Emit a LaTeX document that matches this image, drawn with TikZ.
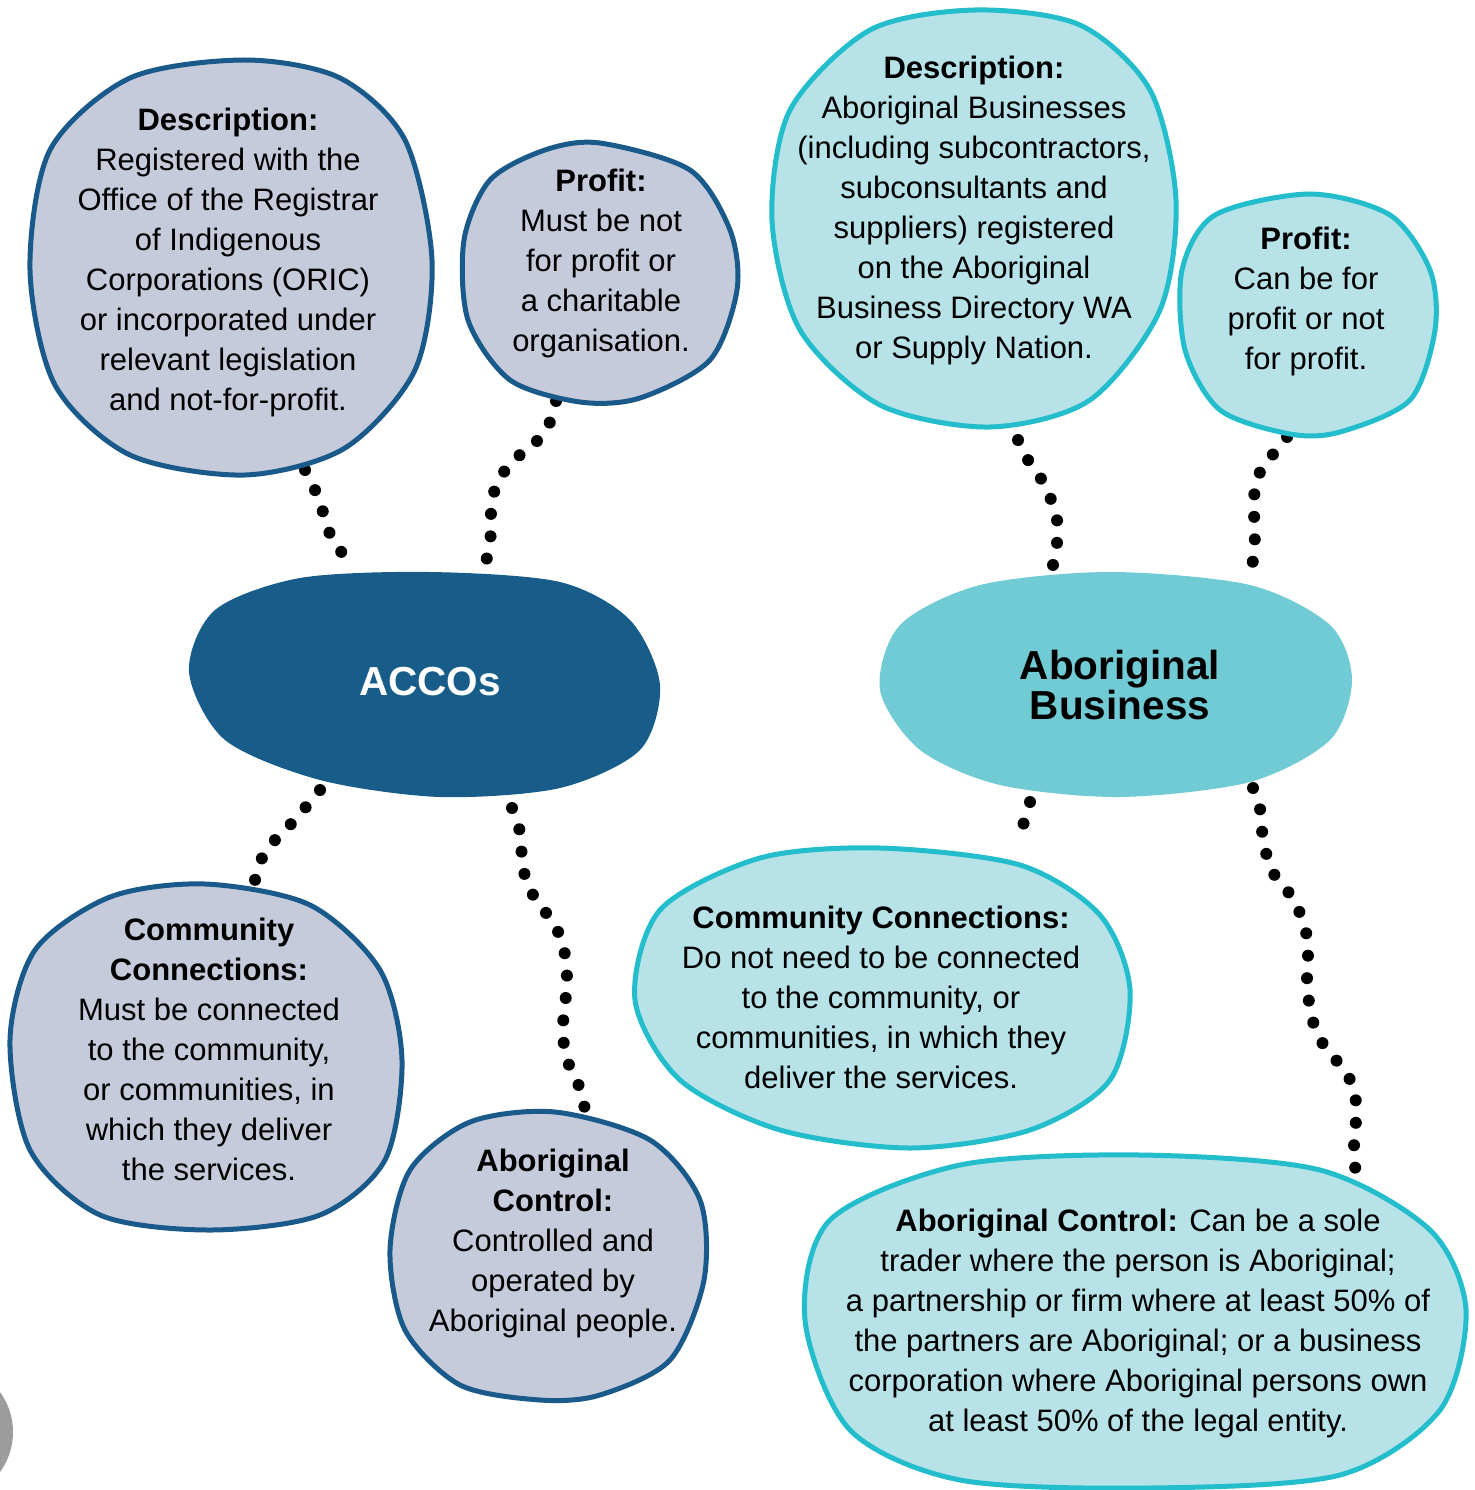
\documentclass[tikz,border=0pt]{standalone}
\usepackage{fontspec}
\setmainfont{Liberation Sans}
\begin{document}
\definecolor{accoFill}{HTML}{C6CBDC}
\definecolor{accoLine}{HTML}{1A5A8A}
\definecolor{accoMain}{HTML}{185D89}
\definecolor{abFill}{HTML}{B6E2E8}
\definecolor{abLine}{HTML}{24BDCB}
\definecolor{abMain}{HTML}{71CBD5}
\definecolor{knob}{HTML}{9C9C9C}
\begin{tikzpicture}[x=1pt,y=-1pt,
  accoblob/.style={fill=accoFill,draw=accoLine,line width=5pt},
  abblob/.style={fill=abFill,draw=abLine,line width=5pt},
  dotline/.style={line width=12pt,line cap=round,dash pattern=on 0pt off 22.5pt},
  body/.style={align=center,inner sep=0pt,font=\fontsize{31}{40}\selectfont},
  title/.style={align=center,inner sep=0pt,font=\fontsize{40.5}{40}\selectfont\bfseries}]
\useasboundingbox (0,0) rectangle (1474,1490);

% half-hidden grey knob at the lower left edge
\fill[knob] (-55,1432) circle (68);

% dotted connectors (drawn first, the bubbles sit on top of their ends)
\draw[dotline] plot[smooth] coordinates {(305,470) (315,490) (323,512) (330,534) (342,553) (352,566)};
\draw[dotline] plot[smooth] coordinates {(556,401) (550,422) (538,440) (522,453) (506,469) (495,489) (491,512) (491,533) (487,556) (486,575)};
\draw[dotline] plot[smooth] coordinates {(320,790) (305,808) (290,825) (275,840) (262,858) (255,880)};
\draw[dotline] plot[smooth] coordinates {(512,808) (520,832) (522,858) (526,880) (536,900) (549,917) (561,938) (566,962) (567,987) (564,1010) (563,1032) (565,1052) (571,1070) (579,1086) (583,1100) (586,1115)};
\draw[dotline] plot[smooth] coordinates {(1018,440) (1028,460) (1040,477) (1050,497) (1057,520) (1057,543) (1053,565)};
\draw[dotline] plot[smooth] coordinates {(1287,437) (1275,452) (1262,468) (1255,488) (1254,512) (1255,535) (1253,558) (1252,575)};
\draw[dotline] plot[smooth] coordinates {(1030,802) (1024,822) (1017,845)};
\draw[dotline] plot[smooth] coordinates {(1253,788) (1260,809) (1262,831) (1266,853) (1275,876) (1289,893) (1299,911) (1306,932) (1308,953) (1307,977) (1309,1002) (1314,1025) (1323,1044) (1336,1060) (1348,1076) (1355,1093) (1356,1119) (1354,1146) (1355,1167) (1363,1186)};

% ACCO bubbles
\draw[accoblob] plot[smooth cycle] coordinates {(245,60) (340,78) (405,140) (432,260) (415,370) (345,448) (245,475) (130,455) (55,385) (30,270) (50,150) (130,78)};
\draw[accoblob] plot[smooth cycle] coordinates {(600,143) (690,170) (730,230) (737,290) (710,360) (640,398) (580,402) (510,380) (468,320) (464,240) (490,180) (545,150)};
\fill[accoMain] plot[smooth cycle] coordinates {(430,572) (560,582) (630,620) (660,685) (640,750) (560,788) (440,797) (320,780) (225,740) (189,672) (215,610) (300,578)};
\draw[accoblob] plot[smooth cycle] coordinates {(205,884) (310,905) (380,970) (402,1060) (385,1160) (320,1215) (210,1230) (100,1215) (30,1150) (10,1040) (35,950) (110,897)};
\draw[accoblob] plot[smooth cycle] coordinates {(555,1112) (650,1140) (700,1200) (704,1280) (670,1360) (600,1395) (540,1400) (460,1385) (405,1330) (390,1250) (410,1170) (470,1122)};

% Aboriginal Business bubbles
\draw[abblob] plot[smooth cycle] coordinates {(975,10) (1080,25) (1150,90) (1176,200) (1160,310) (1090,400) (990,427) (880,405) (800,330) (772,220) (790,110) (870,30)};
\draw[abblob] plot[smooth cycle] coordinates {(1310,194) (1390,215) (1430,270) (1435,330) (1410,400) (1340,432) (1290,434) (1220,410) (1185,350) (1182,270) (1215,215)};
\fill[abMain] plot[smooth cycle] coordinates {(1110,572) (1250,585) (1330,625) (1352,680) (1330,740) (1250,782) (1120,797) (1000,785) (920,750) (880,690) (900,625) (980,585)};
\draw[abblob] plot[smooth cycle] coordinates {(880,848) (1020,865) (1100,915) (1130,990) (1110,1080) (1030,1130) (910,1148) (780,1130) (680,1080) (635,1000) (660,910) (760,858)};
\draw[abblob] plot[smooth cycle] coordinates {(1140,1155) (1320,1170) (1430,1230) (1466,1310) (1440,1410) (1340,1475) (1150,1488) (960,1480) (850,1430) (805,1320) (830,1220) (960,1165)};

% texts
\node[body] (accodesc) at (228,262.5) {\textbf{Description:}\\Registered with the\\Office of the Registrar\\of Indigenous\\Corporations (ORIC)\\or incorporated under\\relevant legislation\\and not-for-profit.};
\node[body] (accoprofit) at (601,263) {\textbf{Profit:}\\Must be not\\for profit or\\a charitable\\organisation.};
\node[title,text=white] (acco) at (430,682) {ACCOs};
\node[body] (accocomm) at (209,1049) {\textbf{Community}\\\textbf{Connections:}\\Must be connected\\to the community,\\or communities, in\\which they deliver\\the services.};
\node[body] (accoctrl) at (553,1243) {\textbf{Aboriginal}\\\textbf{Control:}\\Controlled and\\operated by\\Aboriginal people.};

\node[body] (abdesc) at (974,210) {\textbf{Description:}\\Aboriginal Businesses\\(including subcontractors,\\subconsultants and\\suppliers) registered\\on the Aboriginal\\Business Directory WA\\or Supply Nation.};
\node[body] (abprofit) at (1306,301) {\textbf{Profit:}\\Can be for\\profit or not\\for profit.};
\node[title,text=black] (ab) at (1120,685) {Aboriginal\\Business};
\node[body] (abcomm) at (881,997) {\textbf{Community Connections:}\\Do not need to be connected\\to the community, or\\communities, in which they\\deliver the services.};
\node[body] (abctrl) at (1138,1323) {\textbf{Aboriginal Control:} Can be a sole\\trader where the person is Aboriginal;\\a partnership or firm where at least 50\% of\\the partners are Aboriginal; or a business\\corporation where Aboriginal persons own\\at least 50\% of the legal entity.};
\end{tikzpicture}
\end{document}
